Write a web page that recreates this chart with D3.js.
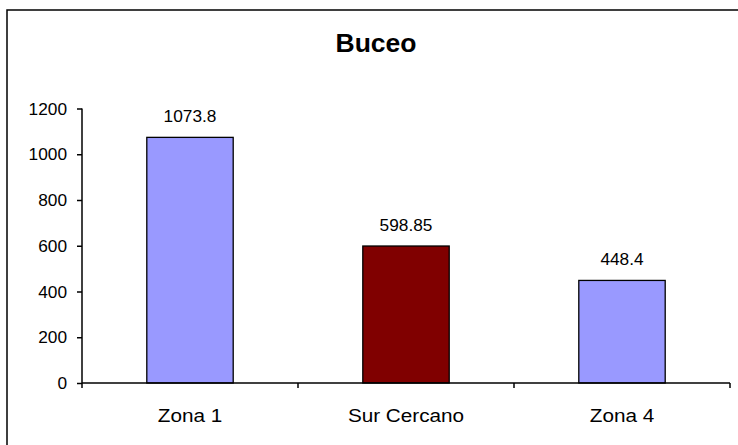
<!DOCTYPE html>
<html>
<head>
<meta charset="utf-8">
<script src="https://cdn.jsdelivr.net/npm/d3@7"></script>
<style>
  html, body { margin: 0; padding: 0; background: #fff; }
  svg { display: block; }
  text { font-family: "Liberation Sans", Arial, sans-serif; fill: #000; }
</style>
</head>
<body>
<svg id="chart" width="738" height="445"></svg>
<script>
const title = "Buceo";
const categories = ["Zona 1", "Sur Cercano", "Zona 4"];
const values = [1073.8, 598.85, 448.4];
const valueLabels = ["1073.8", "598.85", "448.4"];
const barColors = ["#9999FF", "#800000", "#9999FF"];
const yTicks = [0, 200, 400, 600, 800, 1000, 1200];

const svg = d3.select("#chart");
const plot = { left: 82, right: 730, top: 108.5, bottom: 383 };
const SX = 1.08;

// frame
svg.append("rect")
  .attr("x", 7).attr("y", 10)
  .attr("width", 745 - 7).attr("height", 450 - 10)
  .attr("fill", "#fff").attr("stroke", "#000").attr("stroke-width", 1.5);

// title
svg.append("text")
  .attr("transform", "translate(376,51.5) scale(1.04,1)")
  .attr("text-anchor", "middle")
  .attr("font-size", 25.5).attr("font-weight", "bold")
  .text(title);

const x = d3.scaleBand()
  .domain(categories)
  .range([plot.left, plot.right])
  .paddingInner(0.6).paddingOuter(0.3);

const xOuter = d3.scaleBand().domain(categories).range([plot.left, plot.right]).padding(0);

const y = d3.scaleLinear().domain([0, 1200]).range([plot.bottom, plot.top]);

// bars
svg.append("g").selectAll("rect")
  .data(categories)
  .join("rect")
  .attr("x", d => x(d))
  .attr("y", (d, i) => y(values[i]))
  .attr("width", x.bandwidth())
  .attr("height", (d, i) => y(0) - y(values[i]))
  .attr("fill", (d, i) => barColors[i])
  .attr("stroke", "#000").attr("stroke-width", 1.3);

// value labels
svg.append("g").selectAll("text")
  .data(categories)
  .join("text")
  .attr("transform", (d, i) => `translate(${x(d) + x.bandwidth() / 2},${y(values[i]) - 15}) scale(${SX},1)`)
  .attr("text-anchor", "middle")
  .attr("font-size", 16)
  .text((d, i) => valueLabels[i]);

// y axis
const yAxis = d3.axisLeft(y).tickValues(yTicks).tickSize(5).tickPadding(10).tickFormat(d3.format("d"));
const gy = svg.append("g").attr("transform", `translate(${plot.left},0)`).call(yAxis);
gy.select(".domain").attr("stroke", "#000").attr("stroke-width", 1.5)
  .attr("d", `M0,${plot.top}V${plot.bottom}`);
gy.selectAll(".tick line").attr("stroke", "#000").attr("stroke-width", 1.5);
gy.selectAll(".tick text")
  .attr("font-size", 16).attr("font-family", "Liberation Sans, Arial, sans-serif").attr("fill", "#000")
  .attr("x", null).attr("dy", null)
  .attr("transform", `translate(-15,5.7) scale(${SX},1)`);

// x axis
const gx = svg.append("g").attr("transform", `translate(0,${plot.bottom})`);
gx.append("path").attr("d", `M${plot.left},0H${plot.right}`).attr("stroke", "#000").attr("stroke-width", 1.5);
const boundaries = categories.map(c => xOuter(c)).concat([plot.right]);
gx.selectAll("line.bt").data(boundaries).join("line")
  .attr("class", "bt")
  .attr("x1", d => d).attr("x2", d => d).attr("y1", 0).attr("y2", 5)
  .attr("stroke", "#000").attr("stroke-width", 1.5);
gx.selectAll("text").data(categories).join("text")
  .attr("transform", d => `translate(${xOuter(d) + xOuter.bandwidth() / 2},38.5) scale(1.12,1)`)
  .attr("text-anchor", "middle")
  .attr("font-size", 18.5)
  .text(d => d);
</script>
</body>
</html>
